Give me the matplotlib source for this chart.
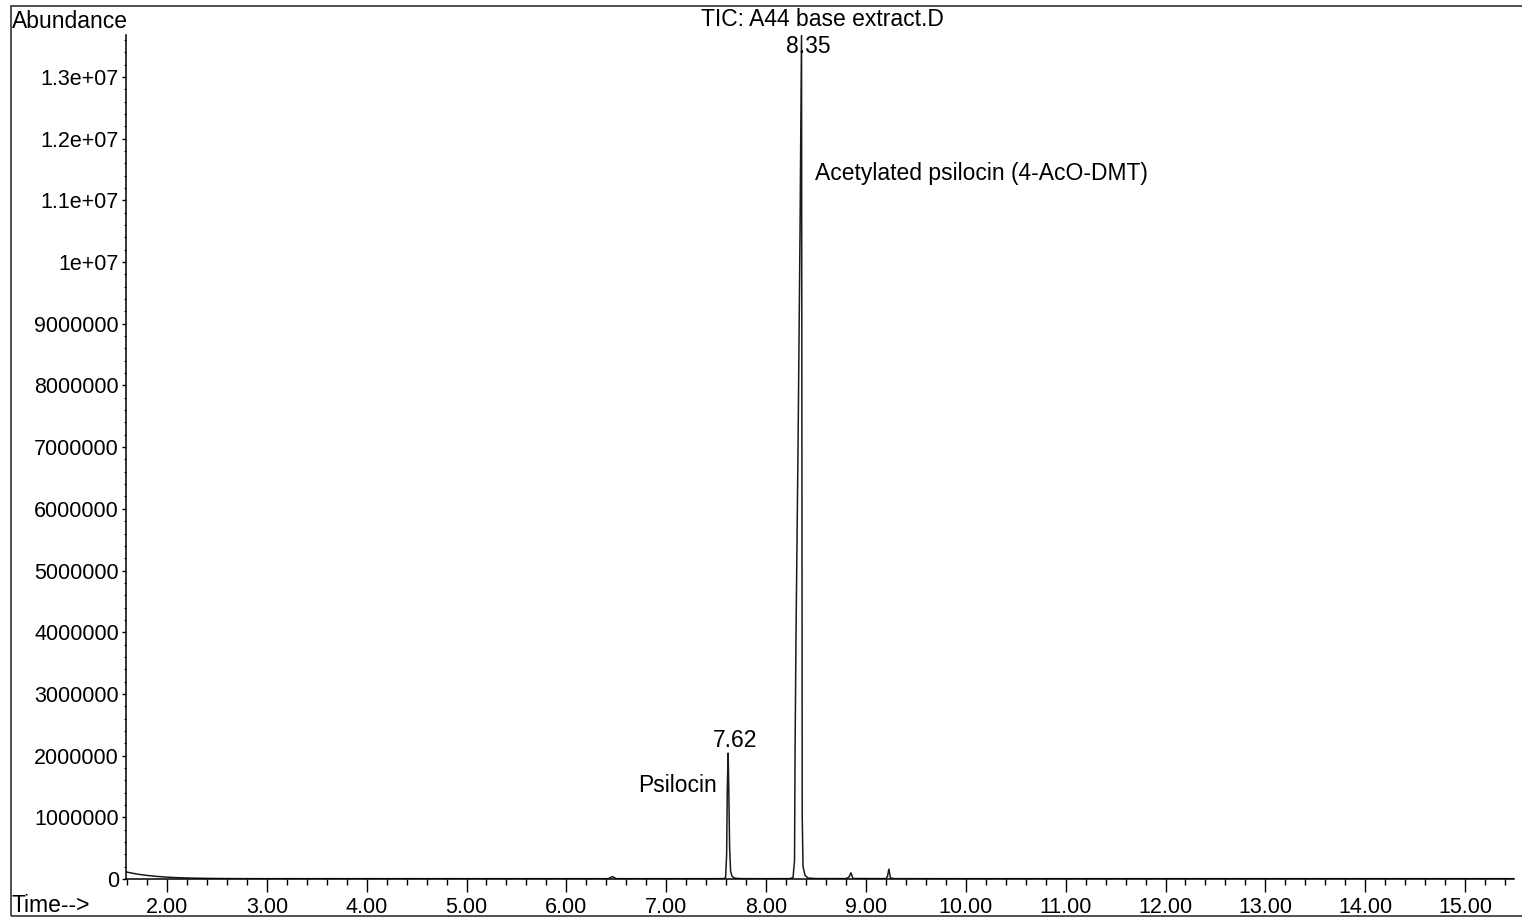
import matplotlib
matplotlib.use("Agg")
import matplotlib.pyplot as plt
from matplotlib.ticker import FixedLocator, MultipleLocator, FuncFormatter
from matplotlib.patches import Rectangle

plt.rcParams['font.family'] = ['Liberation Sans', 'DejaVu Sans']

# ---- data (time in min, abundance) ----
time = [1.59, 1.65, 1.72, 1.80, 1.90, 2.00, 2.10, 2.25, 2.45, 2.70, 3.00, 4.00, 5.00, 6.00,
        6.42, 6.46, 6.50, 7.00, 7.50, 7.58, 7.595, 7.605, 7.612, 7.62, 7.626, 7.635, 7.645,
        7.66, 7.69, 7.75, 8.00, 8.24, 8.27, 8.285, 8.29, 8.30, 8.32, 8.34, 8.355, 8.36,
        8.362, 8.37, 8.39, 8.42, 8.50, 8.80, 8.83, 8.85, 8.87, 9.20, 9.215, 9.23, 9.245,
        9.28, 10.00, 11.00, 12.00, 13.00, 14.00, 15.00, 15.49]
abundance = [115000, 95000, 75000, 58000, 42000, 30000, 22000, 14000, 9000, 6000, 5000,
             5000, 5000, 5000, 5000, 40000, 5000, 5000, 5000, 6000, 30000, 400000, 1500000,
             2040000, 1500000, 500000, 120000, 40000, 12000, 6000, 5000, 6000, 25000,
             300000, 2000000, 4000000, 7000000, 10500000, 13700000, 5000000, 1000000, 200000,
             60000, 15000, 7000, 6000, 30000, 100000, 8000, 6000, 40000, 160000, 20000, 6000,
             5000, 5000, 5000, 5000, 5000, 5000, 5000]

xtick_values = [2, 3, 4, 5, 6, 7, 8, 9, 10, 11, 12, 13, 14, 15]
ytick_values = [0, 1e6, 2e6, 3e6, 4e6, 5e6, 6e6, 7e6, 8e6, 9e6, 1e7, 1.1e7, 1.2e7, 1.3e7]
ytick_labels = ["0", "1000000", "2000000", "3000000", "4000000", "5000000", "6000000",
                "7000000", "8000000", "9000000", "1e+07", "1.1e+07", "1.2e+07", "1.3e+07"]

peak_labels = [("8.35", 8.42, 1.35e7), ("7.62", 7.69, 2.25e6)]
compound_labels = [("Psilocin", 7.51, 1.52e6, "right"),
                   ("Acetylated psilocin (4-AcO-DMT)", 8.49, 1.144e7, "left")]

W, H = 1522, 918
fig = plt.figure(figsize=(W / 100, H / 100), dpi=100)
ax = fig.add_axes([126 / W, 1 - 879 / H, (1514 - 126) / W, (879 - 35) / H])

ax.plot(time, abundance, color='#1a1a1a', lw=1.1)
ax.set_xlim(1.59, 15.49)
ax.set_ylim(0, 1.368e7)

for s in ('top', 'right'):
    ax.spines[s].set_visible(False)
for s in ('left', 'bottom'):
    ax.spines[s].set_linewidth(1.1)

ax.xaxis.set_major_locator(FixedLocator(xtick_values))
ax.xaxis.set_major_formatter(FuncFormatter(lambda v, p: f"{v:.2f}"))
ax.xaxis.set_minor_locator(MultipleLocator(0.2))
ax.yaxis.set_major_locator(FixedLocator(ytick_values))
ax.set_yticklabels(ytick_labels)
ax.yaxis.set_minor_locator(MultipleLocator(2e5))

ax.tick_params(axis='x', which='major', direction='out', length=9, width=1, labelsize=15.5, pad=4)
ax.tick_params(axis='x', which='minor', direction='out', length=4.5, width=1)
ax.tick_params(axis='y', which='major', direction='out', length=3, width=1, labelsize=15.5, pad=2)
ax.tick_params(axis='y', which='minor', direction='out', length=1.5, width=0.7)

for txt, x, y in peak_labels:
    ax.text(x, y, txt, ha='center', va='center', fontsize=16.5, clip_on=False)
for txt, x, y, ha in compound_labels:
    ax.text(x, y, txt, ha=ha, va='center', fontsize=16.5)

fig.text(822 / W, 1 - 20 / H, "TIC: A44 base extract.D", ha='center', va='center', fontsize=16.5)
fig.text(12 / W, 1 - 22 / H, "Abundance", ha='left', va='center', fontsize=16.5)
fig.text(12 / W, 1 - 905 / H, "Time-->", ha='left', va='center', fontsize=16.5)

fig.add_artist(Rectangle((11 / W, 1 - 916 / H), (W + 20) / W, (916 - 6) / H,
                         transform=fig.transFigure, fill=False, lw=1.2,
                         edgecolor='#333333', clip_on=False))

fig.savefig("out.png", dpi=100)
